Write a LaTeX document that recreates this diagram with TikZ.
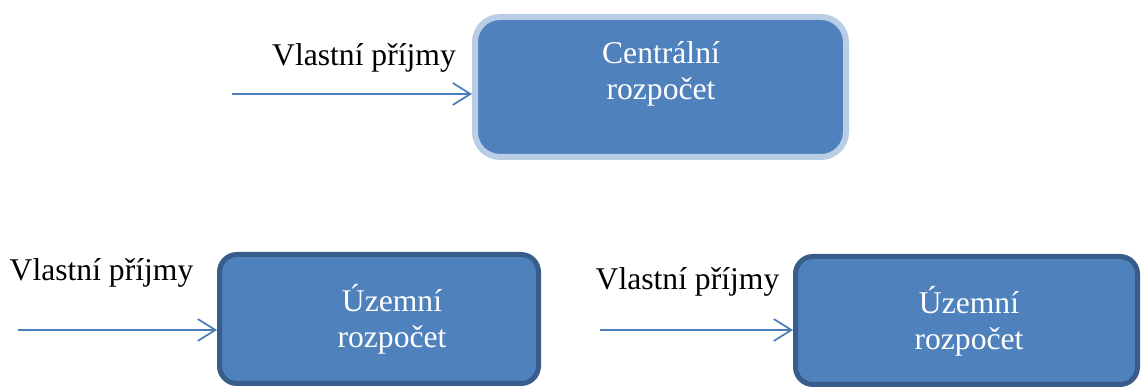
\documentclass[tikz,border=0pt]{standalone}
\usepackage{fontspec}
\setmainfont{Liberation Serif}
\usepackage{xcolor}
\usetikzlibrary{arrows.meta}
\definecolor{boxblue}{HTML}{4F81BD}
\definecolor{darkedge}{HTML}{385D8A}
\definecolor{lightedge}{HTML}{B9CDE5}
\definecolor{arrblue}{HTML}{4A7EBB}

\begin{document}
\begin{tikzpicture}[
        budget/.style={fill=boxblue, draw=darkedge, line width=0.1cm, rounded corners=0.35cm, inner sep=0pt},
        boxtext/.style={text=white, align=center, font=\fontsize{18}{20.5}\selectfont, anchor=base},
        lbl/.style={font=\fontsize{18}{20}\selectfont, anchor=base},
        flow/.style={draw=arrblue, line width=0.035cm, -{Straight Barb[length=10pt,width=12.5pt]}}
    ]
        \useasboundingbox (0,0) rectangle (22.82,-7.74);

        % boxes
        \node[budget, draw=lightedge, line width=0.12cm, rounded corners=0.5cm,
              minimum width=7.42cm, minimum height=2.8cm] (central) at (13.21,-1.74) {};
        \node[budget, minimum width=6.38cm, minimum height=2.58cm] (left) at (7.58,-6.38) {};
        \node[budget, minimum width=6.84cm, minimum height=2.56cm] (right) at (19.33,-6.41) {};

        \node[boxtext] (ctext) at (13.22,-2.0) {Centrální\\rozpočet};
        \node[boxtext] (ltext) at (7.84,-6.96) {Územní\\rozpočet};
        \node[boxtext] (rtext) at (19.38,-7.0) {Územní\\rozpočet};

        % incoming flows
        \coordinate (in1) at (4.64,-1.88);
        \coordinate (in2) at (0.36,-6.6);
        \coordinate (in3) at (12.0,-6.6);
        \draw[flow] (in1) -- (in1 -| central.west);
        \draw[flow] (in2) -- (in2 -| left.west);
        \draw[flow] (in3) -- (in3 -| right.west);

        \node[lbl] (own1) at (7.28,-1.32) {Vlastní příjmy};
        \node[lbl] (own2) at (2.03,-5.62) {Vlastní příjmy};
        \node[lbl] (own3) at (13.75,-5.8) {Vlastní příjmy};

    \end{tikzpicture}
\end{document}
